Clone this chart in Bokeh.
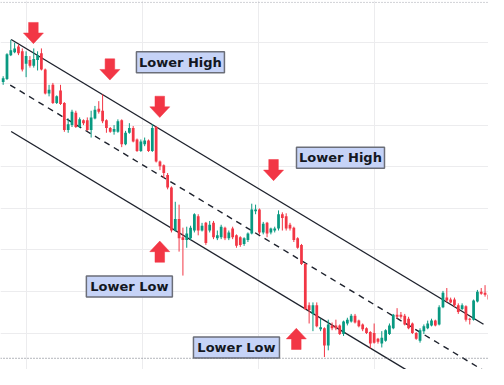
from bokeh.plotting import figure
from bokeh.models import Range1d, FixedTicker, Span, ColumnDataSource
from bokeh.core.properties import value
from bokeh.embed import file_html
from bokeh.resources import INLINE

# ---------------- data (price units, bar index) ----------------
bar = list(range(128))
open_ = [300, 303, 328, 331, 337, 332, 319, 323, 317, 323,
         330, 313, 288, 297, 278, 291, 278, 250, 255, 268,
         253, 260, 260, 250, 262, 272, 270, 260, 252, 248,
         248, 260, 235, 247, 252, 240, 228, 235, 239, 228,
         253, 217, 213, 203, 190, 145, 157, 138, 135, 137,
         145, 160, 145, 153, 145, 153, 137, 138, 148, 137,
         147, 140, 138, 131, 135, 142, 165, 167, 143, 153,
         143, 145, 147, 162, 160, 151, 148, 137, 130, 110,
         67, 58, 67, 42, 43, 25, 46, 46, 46, 37,
         48, 50, 56, 51, 47, 43, 39, 38, 32, 27,
         30, 37, 43, 57, 57, 56, 53, 48, 38, 30,
         40, 43, 46, 51, 47, 65, 75, 73, 73, 67,
         63, 66, 53, 52, 71, 81, 80, 78]
high = [306, 330, 344, 341, 339, 335, 332, 327, 335, 332,
        335, 314, 297, 299, 286, 297, 279, 262, 271, 270,
        263, 261, 263, 270, 275, 280, 287, 261, 253, 255,
        261, 261, 249, 257, 254, 241, 240, 242, 240, 256,
        254, 218, 214, 205, 191, 175, 172, 148, 149, 150,
        163, 162, 153, 154, 155, 155, 145, 151, 149, 145,
        149, 141, 139, 138, 143, 173, 172, 168, 154, 154,
        148, 149, 166, 164, 163, 153, 149, 138, 131, 111,
        70, 70, 70, 53, 44, 52, 49, 52, 47, 51,
        54, 58, 58, 52, 48, 44, 40, 48, 33, 40,
        42, 48, 58, 64, 60, 58, 55, 49, 39, 43,
        47, 51, 53, 52, 67, 82, 85, 75, 75, 69,
        69, 67, 54, 73, 83, 85, 88, 80]
low = [297, 302, 327, 330, 328, 311, 305, 315, 315, 312,
       312, 287, 285, 277, 277, 276, 248, 247, 253, 252,
       252, 255, 249, 242, 261, 267, 257, 247, 247, 245,
       247, 232, 234, 246, 237, 227, 227, 233, 227, 227,
       216, 208, 200, 188, 143, 144, 123, 98, 127, 135,
       143, 140, 144, 130, 143, 136, 135, 136, 135, 135,
       136, 127, 128, 129, 133, 141, 162, 141, 141, 138,
       141, 143, 145, 145, 145, 145, 133, 126, 109, 62,
       48, 40, 44, 40, 13, 20, 41, 41, 36, 35,
       46, 49, 48, 44, 40, 37, 22, 27, 27, 23,
       29, 36, 42, 53, 53, 46, 42, 37, 31, 28,
       37, 42, 45, 45, 46, 64, 70, 69, 65, 58,
       62, 50, 47, 51, 70, 78, 76, 72]
close = [304, 329, 333, 335, 330, 313, 327, 317, 324, 328,
         313, 288, 292, 278, 285, 277, 250, 256, 269, 253,
         261, 257, 250, 263, 271, 269, 259, 252, 248, 251,
         259, 235, 247, 252, 238, 228, 238, 239, 228, 252,
         217, 212, 205, 190, 145, 157, 137, 135, 142, 148,
         162, 145, 150, 132, 151, 138, 140, 149, 137, 143,
         138, 129, 130, 137, 142, 167, 167, 143, 152, 142,
         147, 147, 162, 158, 147, 147, 135, 127, 110, 63,
         62, 67, 45, 44, 25, 47, 43, 43, 37, 50,
         52, 56, 49, 45, 42, 38, 27, 28, 29, 33,
         41, 46, 57, 55, 55, 47, 43, 38, 32, 41,
         45, 48, 51, 46, 65, 80, 72, 70, 67, 60,
         67, 52, 52, 72, 81, 79, 78, 73]

# descending channel (two anchor points each: bar index, price)
upper_x = [2.09, 125.6]
upper_y = [344.3, 47.2]
mid_x = [1.84, 128.5]
mid_y = [296.8, -8.0]
lower_x = [2.09, 112.0]
lower_y = [248.3, -16.2]

# arrows (tip position: bar index, price)
down_arrow_x = [7.91, 27.91, 40.95, 70.7]
down_arrow_y = [340, 302, 263, 197]
up_arrow_x = [40.95, 76.65]
up_arrow_y = [134, 43]

# labels (center position: bar index, price)
label_text = ["Lower High", "Lower High", "Lower Low", "Lower Low"]
label_x = [46.35, 88.2, 33.0, 61.0]
label_y = [320.7, 221.0, 86.7, 23.0]

# grid positions, price lines
grid_x = [6.06, 36.4, 66.7, 97.05]
grid_y = [341.7, 298.3, 254.9, 211.5, 168.1, 124.7, 81.3, 37.9]
last_price = 11.7
top_line = 383.0

# ---------------- figure ----------------
W, H = 488, 369
x0, x1 = -0.696, 126.9
y0, y1 = 0.0, 385.0
sx = W / (x1 - x0)
sy = H / (y1 - y0)

p = figure(width=W, height=H, output_backend="svg", toolbar_location=None,
           x_range=Range1d(x0, x1), y_range=Range1d(y0, y1),
           min_border=0, background_fill_color="white",
           border_fill_color="white")
p.outline_line_color = None
p.xaxis.visible = False
p.yaxis.visible = False
p.xgrid.ticker = FixedTicker(ticks=grid_x)
p.ygrid.ticker = FixedTicker(ticks=grid_y)
p.xgrid.grid_line_color = "#ececee"
p.ygrid.grid_line_color = "#ececee"

GREEN = "#089981"
RED = "#f23645"
colors = [GREEN if c >= o else RED for o, c in zip(open_, close)]
src = ColumnDataSource(dict(
    x=bar, o=open_, h=high, l=low, c=close, color=colors,
    top=[max(o, c) for o, c in zip(open_, close)],
    bot=[min(o, c) for o, c in zip(open_, close)],
))

# channel
p.line(upper_x, upper_y, line_color="#1e222d", line_width=1.4)
p.line(lower_x, lower_y, line_color="#1e222d", line_width=1.4)
p.line(mid_x, mid_y, line_color="#1e222d", line_width=1.4, line_dash="6 5")

# candles
p.segment(x0="x", y0="h", x1="x", y1="l", source=src, line_color="color", line_width=1)
p.vbar(x="x", width=0.72, top="top", bottom="bot", source=src,
       fill_color="color", line_color=None)

# price lines (dotted)
p.add_layout(Span(location=last_price, dimension="width", line_color="#6a6d78",
                  line_dash="1 2", line_width=1))
p.add_layout(Span(location=top_line, dimension="width", line_color="#a3a6af",
                  line_dash="1 2", line_width=1))

# arrows (shape in screen pixels, converted to data units)
def arrow_shape(xt, yt, direction):
    pts = [(-4.8, 21.2), (4.8, 21.2), (4.8, 10.6), (10, 10.6), (0, 0), (-10, 10.6), (-4.8, 10.6)]
    xs = [xt + dx / sx for dx, dy in pts]
    ys = [yt + direction * dy / sy for dx, dy in pts]
    return xs, ys

ax, ay = [], []
for xt, yt in zip(down_arrow_x, down_arrow_y):
    a, b = arrow_shape(xt, yt, 1)
    ax.append(a); ay.append(b)
for xt, yt in zip(up_arrow_x, up_arrow_y):
    a, b = arrow_shape(xt, yt, -1)
    ax.append(a); ay.append(b)
p.patches(ax, ay, fill_color=RED, line_color=RED, line_width=0.5)

# labels
box_w = [88 if t == "Lower High" else 86 for t in label_text]
p.rect(x=label_x, y=label_y, width=box_w, height=[21] * len(label_x),
       width_units="screen", height_units="screen",
       fill_color="#c6d3f7", line_color="#6b6e78", line_width=1.5)
p.text(x=label_x, y=label_y, text=label_text, text_align="center",
       text_baseline="middle", text_font=value("DejaVu Sans"),
       text_font_style="bold", text_font_size="13px", text_color="#131722")

open("out.html", "w").write(file_html(p, INLINE))
